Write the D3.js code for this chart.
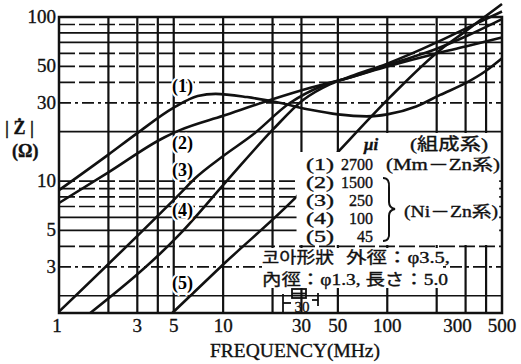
<!DOCTYPE html>
<html>
<head>
<meta charset="utf-8">
<script src="https://cdn.jsdelivr.net/npm/d3@7"></script>
<style>
  body { margin: 0; background: #fff; }
  text { font-family: "Liberation Serif", "Noto Sans CJK JP", serif; fill: #111; stroke: #111; stroke-width: 0.35; }
  text.curve-label { stroke: #fff; stroke-width: 4px; paint-order: stroke fill; fill: #000; }
</style>
</head>
<body>
<script>
// tick labels and grid values
const freqTicks = [1, 3, 5, 10, 30, 50, 100, 300, 500];
const zTicks = [3, 5, 10, 30, 50, 100];
const vGrid = [2, 3, 4, 5, 10, 20, 30, 50, 100, 200, 300, 400];
const hGrid = [2, 3, 4, 5, 6, 7, 8, 9, 10, 20, 30, 40, 50, 60, 70, 80, 90];

// curves: [frequency MHz, |Z| ohm]
const curveIds = ["(1)", "(2)", "(3)", "(4)", "(5)"];
const muValues = ["2700", "1500", "250", "100", "45"];
const c1 = [[1, 8.8], [2, 14.5], [3, 19.6], [5, 28], [7, 33], [9, 34], [14, 32.5], [22, 30], [34, 27.2],
            [50, 25.5], [75, 24.8], [100, 25.5], [150, 28.5], [210, 33.5], [300, 39.5], [400, 47], [500, 56]];
const c2 = [[1, 7.35], [2, 11.3], [4.4, 18.5], [5.5, 20.5], [10, 25], [20, 31.5], [34, 37], [60, 43],
            [100, 50], [200, 60], [300, 66], [500, 75]];
const c3 = [[1, 1.6], [5.5, 8.45], [6.75, 10.4], [10, 14.2], [15, 19], [25.6, 30], [40, 38], [60, 43],
            [120, 54], [200, 64], [300, 76], [500, 97]];
const c4 = [[1.55, 1.57], [5.5, 4.8], [10.6, 10.1], [20, 20.5], [30.7, 31.2], [45, 39], [60, 43.5],
            [100, 52], [200, 70], [300, 85], [500, 108]];
const c5 = [[4.9, 1.57], [10, 3.1], [28.6, 8.2], [51.5, 15.5], [104, 32.5], [210, 63], [300, 82], [500, 120]];
const curves = [c1, c2, c3, c4, c5];

const W = 521, H = 364;
const svg = d3.select("body").append("svg")
    .attr("width", W).attr("height", H)
    .style("background", "#fff");

const x = d3.scaleLog().domain([1, 500]).range([59, 502]);
const y = d3.scaleLog().domain([1.57, 100]).range([313, 17]);

// grid
const dashFor = v => ([20, 80, 70, 6, 5, 2].includes(v) ? null : (v === 30 || v === 3 ? "12,4,3,4" : "16,4"));
svg.append("g").selectAll("line").data(hGrid).join("line")
    .attr("x1", x(1)).attr("x2", x(500))
    .attr("y1", d => y(d)).attr("y2", d => y(d))
    .attr("stroke", "#111").attr("stroke-width", 1.7)
    .attr("stroke-dasharray", dashFor);
svg.append("g").selectAll("line").data(vGrid).join("line")
    .attr("x1", d => x(d)).attr("x2", d => x(d))
    .attr("y1", y(100)).attr("y2", y(1.57))
    .attr("stroke", "#111").attr("stroke-width", 2.2);

// frame
svg.append("rect")
    .attr("x", x(1)).attr("y", y(100))
    .attr("width", x(500) - x(1)).attr("height", y(1.57) - y(100))
    .attr("fill", "none").attr("stroke", "#111").attr("stroke-width", 2.5);

// curves
const line = d3.line().x(d => x(d[0])).y(d => y(d[1])).curve(d3.curveMonotoneX);
svg.append("g").selectAll("path").data(curves).join("path")
    .attr("d", line)
    .attr("fill", "none").attr("stroke", "#111").attr("stroke-width", 2.6);

// white areas behind the legend text
const mask = svg.append("g").attr("fill", "#fff");
mask.append("rect").attr("x", x(70)).attr("y", 133).attr("width", x(480) - x(70)).attr("height", 112);
mask.append("rect").attr("x", x(28)).attr("y", 152).attr("width", x(480) - x(28)).attr("height", 93);
mask.append("rect").attr("x", x(17.5)).attr("y", 248).attr("width", x(210) - x(17.5)).attr("height", 40);

// curve labels, white halo breaks the lines under them
const labelY = [86, 143, 170, 210, 283];
svg.append("g").selectAll("text").data(curveIds).join("text")
    .attr("class", "curve-label")
    .attr("x", 172).attr("y", (d, i) => labelY[i] + 6)
    .attr("font-size", 18).attr("font-weight", "bold")
    .text(d => d);

// axis tick labels
svg.append("g").selectAll("text").data(zTicks).join("text")
    .attr("x", 56).attr("y", d => y(d) + 6)
    .attr("text-anchor", "end").attr("font-size", 19)
    .text(d => d);
svg.append("g").selectAll("text").data(freqTicks).join("text")
    .attr("x", d => x(d) + (d === 300 ? -8 : 0) - (d === 1 ? 2 : 0)).attr("y", 332)
    .attr("text-anchor", "middle").attr("font-size", 19)
    .text(d => d);

svg.append("text").attr("x", 210).attr("y", 357).attr("font-size", 19)
    .attr("textLength", 170).attr("lengthAdjust", "spacingAndGlyphs")
    .text("FREQUENCY(MHz)");
svg.append("text").attr("x", 5).attr("y", 134).attr("font-size", 18)
    .attr("font-weight", "bold").text("| Ż |");
svg.append("text").attr("x", 12).attr("y", 157).attr("font-size", 18)
    .attr("font-weight", "bold").text("(Ω)");

// legend
const lg = svg.append("g").attr("font-size", 16);
lg.append("text").attr("x", 364).attr("y", 150).attr("font-size", 17).attr("font-style", "italic").attr("font-weight", "bold").text("μi");
lg.append("text").attr("x", 410).attr("y", 150).attr("font-size", 17).attr("textLength", 78).attr("lengthAdjust", "spacingAndGlyphs").text("(組成系)");
const rowY = [170, 188, 206, 224, 242];
lg.selectAll("text.id").data(curveIds).join("text").attr("class", "id")
    .attr("x", 306).attr("y", (d, i) => rowY[i])
    .attr("textLength", 28).attr("lengthAdjust", "spacingAndGlyphs").text(d => d);
lg.selectAll("text.mu").data(muValues).join("text").attr("class", "mu")
    .attr("x", 373).attr("y", (d, i) => rowY[i]).attr("text-anchor", "end").text(d => d);
lg.append("text").attr("x", 386).attr("y", 170).attr("textLength", 114).attr("lengthAdjust", "spacingAndGlyphs").text("(Mm－Zn系)");
lg.append("text").attr("x", 404).attr("y", 217).attr("textLength", 94).attr("lengthAdjust", "spacingAndGlyphs").text("(Ni－Zn系)");
lg.append("path")
    .attr("d", "M383,178 Q390,178 389,188 L389,202 Q389,208 395,209 Q389,210 389,216 L389,232 Q390,241 383,241")
    .attr("fill", "none").attr("stroke", "#111").attr("stroke-width", 2);
lg.append("text").attr("x", 262).attr("y", 263)
    .attr("textLength", 72).attr("lengthAdjust", "spacingAndGlyphs").text("코아形狀");
lg.append("text").attr("x", 346).attr("y", 263).attr("textLength", 104).attr("lengthAdjust", "spacingAndGlyphs").text("外徑：φ3.5,");
lg.append("text").attr("x", 262).attr("y", 285).attr("textLength", 186).attr("lengthAdjust", "spacingAndGlyphs").text("內徑：φ1.3, 長さ：5.0");

// core shape sketch
const core = svg.append("g").attr("stroke", "#111").attr("stroke-width", 1.8).attr("fill", "none");
core.append("rect").attr("x", 292).attr("y", 289).attr("width", 14).attr("height", 9);
core.append("line").attr("x1", 292).attr("x2", 306).attr("y1", 293.5).attr("y2", 293.5);
core.append("line").attr("x1", 283).attr("x2", 283).attr("y1", 294).attr("y2", 312);
core.append("line").attr("x1", 283).attr("x2", 291).attr("y1", 303).attr("y2", 303);
core.append("line").attr("x1", 318).attr("x2", 318).attr("y1", 293).attr("y2", 306);
core.append("line").attr("x1", 312).attr("x2", 318).attr("y1", 300).attr("y2", 300);
svg.append("text").attr("x", 302).attr("y", 312).attr("text-anchor", "middle").attr("font-size", 15).text("30");
</script>
</body>
</html>
